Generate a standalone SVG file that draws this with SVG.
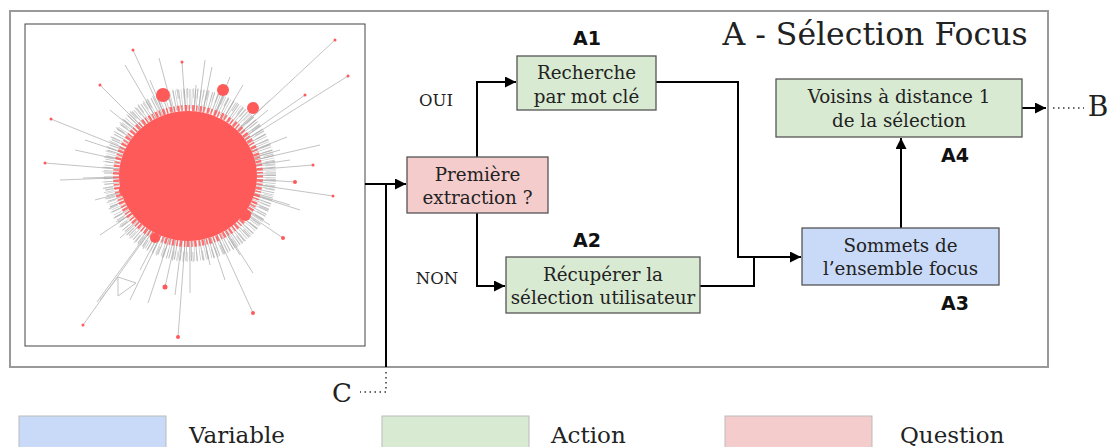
<svg xmlns="http://www.w3.org/2000/svg" width="1110" height="447" viewBox="0 0 1110 447">
<style>
.t{font-family:"DejaVu Serif","Liberation Serif",serif;fill:#222;text-anchor:middle}
.bx{font-size:18.3px}
.lab{font-family:"DejaVu Sans","Liberation Sans",sans-serif;font-weight:bold;font-size:19px;fill:#111;text-anchor:middle}
.act{fill:#d9ead3;stroke:#555;stroke-width:1.3}
.var{fill:#c9daf8;stroke:#555;stroke-width:1.3}
.que{fill:#f4cccc;stroke:#555;stroke-width:1.3}
.c{fill:none;stroke:#000;stroke-width:2}
.dot{fill:none;stroke:#333;stroke-width:1.5;stroke-dasharray:1.5 3.5}
.sp{stroke:#bdbdbd;stroke-width:1;fill:none;opacity:0.9}
.leg{font-family:"DejaVu Serif","Liberation Serif",serif;font-size:23px;fill:#222}
</style>
<defs>
<marker id="ah" viewBox="0 0 10 10" refX="10" refY="5" markerWidth="5.5" markerHeight="5.5" orient="auto" markerUnits="strokeWidth">
<path d="M0,0 L10,5 L0,10 z" fill="#000"/>
</marker>
</defs>
<rect width="1110" height="447" fill="#fff"/>
<g id="frame">
<rect x="10" y="11" width="1038" height="356" fill="none" stroke="#999" stroke-width="2"/>
<text x="875" y="45" style="font-family:'DejaVu Serif','Liberation Serif',serif;font-size:31.5px;fill:#222;text-anchor:middle">A - Sélection Focus</text>
</g>
<g id="graph-image">
<rect x="25" y="24" width="340" height="322" fill="#fff" stroke="#444" stroke-width="1"/>
<g class="sp">
<path d="M190,175 L335,40 M190,175 L348,76 M190,175 L133,50 M190,175 L182,62 M190,175 L159,58 M190,175 L212,67 M190,175 L125,65 M190,175 L100,85 M190,175 L51,119 M190,175 L45,163 M190,175 L83,178 M190,175 L333,196 M190,175 L313,165 M190,175 L295,182 M190,175 L283,238 M190,175 L253,313 M190,175 L253,273 M190,175 L178,337 M190,175 L83,325 M190,175 L97,302 M190,175 L148,303 M190,175 L175,295 M190,175 L190,293 M190,175 L210,265 M190,175 L120,238 M190,175 L110,207 M190,175 L287,137 M190,175 L305,95 M190,175 L243,85 M190,175 L230,77 M190,175 L196,85 M190,175 L165,287 M190,175 L280,150 M190,175 L290,160 M190,175 L290,205 M190,175 L270,225 M190,175 L240,255 M190,175 L140,270 M190,175 L100,235 M190,175 L95,200 M190,175 L85,140 M190,175 L110,110 M190,175 L150,80 M190,175 L225,90 M190,175 L270,100 M190,175 L320,145 M190,175 L300,210 M190,175 L60,180 M190,175 L75,150 M190,175 L130,300 M190,175 L225,280 M190,175 L268,110 M190,175 L205,60"/>
<path d="M118,277 L136,283 L118,296 Z M100,300 L118,277" />
</g>
<circle cx="190" cy="175" r="76" fill="none" stroke="#aaa" stroke-width="20" stroke-dasharray="1 1.3 0.6 2.2" opacity="0.75"/>
<circle cx="189" cy="175" r="82" fill="none" stroke="#b5b5b5" stroke-width="10" stroke-dasharray="0.8 3 1.2 5" opacity="0.7"/>
<g fill="#ff5a5a">
<ellipse cx="188" cy="176" rx="69" ry="65"/>
<circle cx="163" cy="95" r="7"/><circle cx="223" cy="90" r="6"/><circle cx="253" cy="108" r="6"/><circle cx="125" cy="190" r="6"/><circle cx="245" cy="215" r="6"/><circle cx="155" cy="238" r="5"/>
<circle cx="335" cy="40" r="1.5"/><circle cx="348" cy="76" r="1.5"/><circle cx="133" cy="50" r="1.5"/><circle cx="182" cy="62" r="1.5"/><circle cx="51" cy="119" r="1.5"/><circle cx="45" cy="163" r="1.5"/><circle cx="333" cy="196" r="1.5"/><circle cx="313" cy="165" r="1.5"/><circle cx="283" cy="238" r="2"/><circle cx="253" cy="313" r="2"/><circle cx="178" cy="337" r="2"/><circle cx="83" cy="325" r="1.5"/><circle cx="165" cy="287" r="2.5"/><circle cx="305" cy="95" r="1.5"/><circle cx="100" cy="85" r="1.5"/><circle cx="295" cy="182" r="2"/>
</g>
<ellipse cx="188" cy="176" rx="72" ry="68" fill="none" stroke="#ff5a5a" stroke-width="6" stroke-dasharray="1.5 2 2.5 1.5" opacity="0.85"/>
</g>
<g id="connectors">
<path class="c" d="M365,184 L406,184" marker-end="url(#ah)"/>
<path class="c" d="M386,184 L386,367"/>
<path class="dot" d="M386,372 L386,392 L360,392"/>
<path class="c" d="M477,157 L477,82 L516,82" marker-end="url(#ah)"/>
<path class="c" d="M477,213 L477,286 L505,286" marker-end="url(#ah)"/>
<path class="c" d="M656,82 L738,82 L738,257 L801,257" marker-end="url(#ah)"/>
<path class="c" d="M700,286 L754,286 L754,257"/>
<path class="c" d="M901,228 L901,138" marker-end="url(#ah)"/>
<path class="c" d="M1022,108 L1046,108" marker-end="url(#ah)"/>
<path class="dot" d="M1053,108 L1084,108"/>
</g>
<g id="q-premiere">
<rect class="que" x="407" y="157" width="141" height="56"/>
<text class="t bx" x="477.5" y="181">Première</text>
<text class="t bx" x="477.5" y="204">extraction ?</text>
</g>
<g id="a1">
<rect class="act" x="517" y="56" width="139" height="54"/>
<text class="t bx" x="586.5" y="79">Recherche</text>
<text class="t bx" x="586.5" y="103">par mot clé</text>
<text class="lab" x="587" y="45">A1</text>
</g>
<g id="a2">
<rect class="act" x="506" y="257" width="194" height="56"/>
<text class="t bx" x="603" y="281">Récupérer la</text>
<text class="t bx" x="603" y="304">sélection utilisateur</text>
<text class="lab" x="587" y="247">A2</text>
</g>
<g id="a3">
<rect class="var" x="802" y="228" width="197" height="57"/>
<text class="t bx" x="900.5" y="252">Sommets de</text>
<text class="t bx" x="900.5" y="275">l’ensemble focus</text>
<text class="lab" x="955" y="310">A3</text>
</g>
<g id="a4">
<rect class="act" x="776" y="79" width="246" height="58"/>
<text class="t bx" x="899" y="103">Voisins à distance 1</text>
<text class="t bx" x="899" y="127">de la sélection</text>
<text class="lab" x="955" y="162">A4</text>
</g>
<g id="edge-labels">
<text class="t" x="436" y="106" style="font-size:16.5px">OUI</text>
<text class="t" x="437" y="284" style="font-size:16.5px">NON</text>
<text class="t" x="1098" y="116" style="font-size:28px">B</text>
<text class="t" x="342" y="402" style="font-size:26px">C</text>
</g>
<g id="legend">
<rect x="19" y="416" width="147" height="40" fill="#c9daf8" stroke="#bbb"/>
<text class="leg" x="189" y="443">Variable</text>
<rect x="382" y="416" width="147" height="40" fill="#d9ead3" stroke="#bbb"/>
<text class="leg" x="551" y="443">Action</text>
<rect x="725" y="416" width="147" height="40" fill="#f4cccc" stroke="#bbb"/>
<text class="leg" x="900" y="443">Question</text>
</g>
</svg>
